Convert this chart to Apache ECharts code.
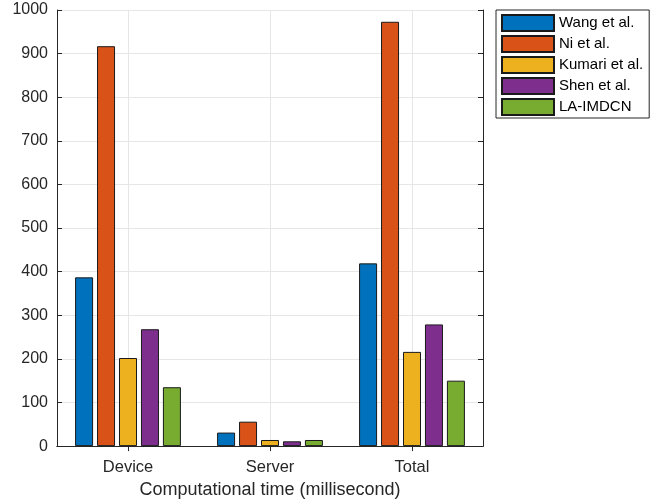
<!DOCTYPE html>
<html>
<head>
<meta charset="utf-8">
<script src="https://cdn.jsdelivr.net/npm/echarts@6/dist/echarts.min.js"></script>
<style>html,body{margin:0;padding:0;background:#fff;}#c{width:657px;height:504px;}</style>
</head>
<body>
<div id="c"></div>
<script>
var categories = ['Device', 'Server', 'Total'];
var seriesNames = ['Wang et al.', 'Ni et al.', 'Kumari et al.', 'Shen et al.', 'LA-IMDCN'];
var wang = [387, 31, 419];
var ni = [917, 56, 973];
var kumari = [202, 14, 216];
var shen = [268, 11, 279];
var laimdcn = [135, 14, 150];
var colors = ['#0072BD', '#D95319', '#EDB120', '#7E2F8E', '#77AC30'];
var xAxisTitle = 'Computational time (millisecond)';

var allData = [wang, ni, kumari, shen, laimdcn];
var font = 'Liberation Sans, Arial, sans-serif';
var axisCol = '#262626';

var series = seriesNames.map(function (n, i) {
  return {
    name: n, type: 'bar', data: allData[i], barWidth: 18, barGap: '22%',
    itemStyle: { color: colors[i], borderColor: '#1a1a1a', borderWidth: 1 },
    z: 3
  };
});

var chart = echarts.init(document.getElementById('c'), null, { renderer: 'canvas' });
chart.setOption({
  animation: false,
  backgroundColor: '#fff',
  grid: { left: 57, right: 174, top: 10, bottom: 56, containLabel: false },
  legend: {
    orient: 'vertical', left: 496, top: 10,
    data: seriesNames,
    itemWidth: 52, itemHeight: 16, itemGap: 3,
    padding: [4, 6, 2, 5],
    borderColor: '#262626', borderWidth: 1, backgroundColor: '#fff',
    textStyle: { fontFamily: font, fontSize: 15, color: '#000' },
    icon: 'rect'
  },
  xAxis: [{
    type: 'category', data: categories, position: 'bottom',
    boundaryGap: true,
    axisLine: { lineStyle: { color: axisCol, width: 1 } },
    axisTick: { show: true, inside: true, alignWithLabel: true, length: 5, lineStyle: { color: axisCol } },
    axisLabel: { fontFamily: font, fontSize: 16.5, color: axisCol, margin: 13 },
    splitLine: { show: true, alignWithLabel: true, lineStyle: { color: '#e6e6e6', width: 1 } },
    name: xAxisTitle, nameLocation: 'middle', nameGap: 33,
    nameTextStyle: { fontFamily: font, fontSize: 18, color: axisCol }
  }, {
    type: 'category', data: categories, position: 'top',
    boundaryGap: true,
    axisLine: { lineStyle: { color: axisCol, width: 1 } },
    axisTick: { show: true, inside: true, alignWithLabel: true, length: 5, lineStyle: { color: axisCol } },
    axisLabel: { show: false },
    splitLine: { show: false }
  }],
  yAxis: [{
    type: 'value', min: 0, max: 1000, interval: 100, position: 'left',
    axisLine: { show: true, lineStyle: { color: axisCol, width: 1 } },
    axisTick: { show: true, inside: true, length: 5, lineStyle: { color: axisCol } },
    axisLabel: { fontFamily: font, fontSize: 16, color: axisCol, margin: 9, formatter: function (v) { return String(v); } },
    splitLine: { show: true, lineStyle: { color: '#e6e6e6', width: 1 } }
  }, {
    type: 'value', min: 0, max: 1000, interval: 100, position: 'right',
    axisLine: { show: true, lineStyle: { color: axisCol, width: 1 } },
    axisTick: { show: true, inside: true, length: 5, lineStyle: { color: axisCol } },
    axisLabel: { show: false },
    splitLine: { show: false }
  }],
  series: series
});
</script>
</body>
</html>
